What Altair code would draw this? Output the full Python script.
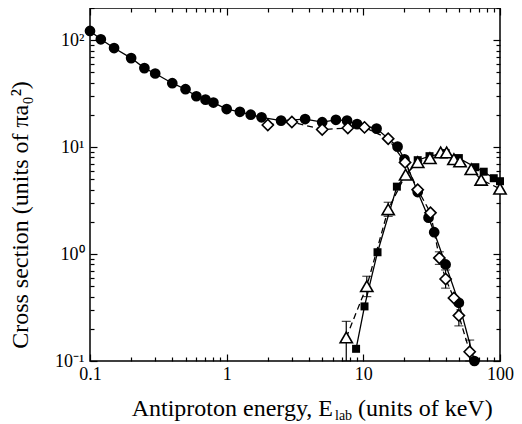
import altair as alt
import pandas as pd

# ---- data ----
circle_x = [0.1, 0.12, 0.15, 0.2, 0.25, 0.3, 0.4, 0.5, 0.6, 0.7, 0.8, 1.0, 1.25, 1.5, 1.8,
            2.5, 3.75, 5.0, 6.3, 7.6, 9.0, 12.5, 17.8, 20, 25, 30, 33, 40, 50, 65]
circle_y = [122, 102, 84.5, 68, 54.8, 48.8, 39.6, 34.8, 29.9, 27.8, 26.1, 22.7, 21.4, 20.1, 19.0,
            17.7, 18.3, 17.1, 18.0, 17.7, 16.4, 14.9, 10.1, 7.7, 3.8, 2.19, 1.60, 0.80, 0.35, 0.10]

diamond_x = [2.0, 3.0, 5.0, 7.7, 10.2, 15.2, 20.2, 25, 31, 36, 40, 46, 50, 60]
diamond_y = [16.1, 17.2, 14.6, 15.1, 15.3, 12.0, 7.2, 4.0, 2.43, 0.92, 0.585, 0.388, 0.266, 0.122]
diamond_err_x = [36, 40, 50, 60]
diamond_err_lo = [0.80, 0.48, 0.213, 0.10]
diamond_err_hi = [1.05, 0.71, 0.33, 0.157]

square_x = [8.85, 10.2, 12.7, 17.6, 25, 30.5, 40, 50, 66, 76, 90, 100]
square_y = [0.13, 0.324, 1.04, 4.27, 7.55, 8.23, 8.8, 7.9, 6.49, 5.89, 5.12, 4.8]

tri_x = [7.5, 10.6, 15.2, 20.4, 25, 30.7, 36.8, 40.7, 46, 51, 61.6, 72.8, 100]
tri_y = [0.166, 0.50, 2.62, 5.52, 7.23, 7.88, 8.91, 8.91, 7.71, 7.34, 6.21, 4.95, 4.08]
tri_err_x = [7.5, 10.6, 15.2]
tri_err_lo = [0.10, 0.40, 2.25]
tri_err_hi = [0.235, 0.62, 3.05]

x_major = [0.1, 1, 10, 100]
x_minor = [0.2, 0.3, 0.4, 0.5, 0.6, 0.7, 0.8, 0.9, 2, 3, 4, 5, 6, 7, 8, 9,
           20, 30, 40, 50, 60, 70, 80, 90]
y_major = [0.1, 1, 10, 100]
y_minor = [0.2, 0.3, 0.4, 0.5, 0.6, 0.7, 0.8, 0.9, 2, 3, 4, 5, 6, 7, 8, 9,
           20, 30, 40, 50, 60, 70, 80, 90, 200]

x_title_main = ["Antiproton energy, E"]
x_title_sub = ["lab"]
x_title_rest = ["(units of keV)"]
y_title = ["Cross section (units of \u03c0a\u2080\u00b2)"]

FONT = "Liberation Serif"
LABEL_SIZE = 18
X_TITLE_SIZE = 24
Y_TITLE_SIZE = 24

xs = alt.Scale(type="log", domain=[0.1, 100], nice=False)
ys = alt.Scale(type="log", domain=[0.1, 200], nice=False)


def ax(orient, values, size, labels=False, **kw):
    return alt.Axis(orient=orient, values=values, tickSize=size, offset=-size,
                    domain=False, grid=False, labels=labels, title=None,
                    labelFlush=False, labelOverlap=False,
                    tickColor="black", tickWidth=1.2, labelColor="black",
                    labelFont=FONT, labelFontSize=LABEL_SIZE, **kw)


ylab = ("datum.value >= 99 ? '10\u00b2' : datum.value >= 9 ? '10\u00b9' : "
        "datum.value >= 0.9 ? '10\u2070' : '10\u207b\u00b9'")

ax_bottom = ax("bottom", x_major, 7, labels=True, labelPadding=4, format="~g")
ax_bottom_minor = ax("bottom", x_minor, 4)
ax_top = ax("top", x_major, 7)
ax_top_minor = ax("top", x_minor, 4)
ax_left = ax("left", y_major, 7, labels=True, labelPadding=6, labelExpr=ylab)
ax_left_minor = ax("left", y_minor, 4)
ax_right = ax("right", y_major, 7)
ax_right_minor = ax("right", y_minor, 4)

circ = pd.DataFrame({"x": circle_x, "y": circle_y})
dia = pd.DataFrame({"x": diamond_x, "y": diamond_y})
sq = pd.DataFrame({"x": square_x, "y": square_y})
tri = pd.DataFrame({"x": tri_x, "y": tri_y})
tri_err = pd.DataFrame({"x": tri_err_x, "lo": tri_err_lo, "hi": tri_err_hi})
dia_err = pd.DataFrame({"x": diamond_err_x, "lo": diamond_err_lo, "hi": diamond_err_hi})


def X(axis):
    return alt.X("x:Q", scale=xs, axis=axis)


def Y(axis, field="y"):
    return alt.Y(f"{field}:Q", scale=ys, axis=axis)


line_circ = alt.Chart(circ).mark_line(color="black", strokeWidth=1.3).encode(
    x=X(ax_bottom), y=Y(ax_left))
line_sq = alt.Chart(sq).mark_line(color="black", strokeWidth=1.3).encode(
    x=X(ax_bottom_minor), y=Y(ax_left_minor))
line_dia = alt.Chart(dia).mark_line(color="black", strokeWidth=1.3, strokeDash=[6, 4]).encode(
    x=X(ax_top), y=Y(ax_right))
line_tri = alt.Chart(tri).mark_line(color="black", strokeWidth=1.3, strokeDash=[6, 4]).encode(
    x=X(ax_top_minor), y=Y(ax_right_minor))


def errbars(df):
    rule = alt.Chart(df).mark_rule(color="black", strokeWidth=1.2).encode(
        x=X(None), y=Y(None, "lo"), y2="hi:Q")
    cap_lo = alt.Chart(df).mark_tick(color="black", orient="horizontal", size=9,
                                     thickness=1.2).encode(x=X(None), y=Y(None, "lo"))
    cap_hi = alt.Chart(df).mark_tick(color="black", orient="horizontal", size=9,
                                     thickness=1.2).encode(x=X(None), y=Y(None, "hi"))
    return [rule, cap_lo, cap_hi]


pts_circ = alt.Chart(circ).mark_point(shape="circle", filled=True, color="black",
                                      size=115, opacity=1).encode(x=X(None), y=Y(None))
pts_sq = alt.Chart(sq).mark_point(shape="square", filled=True, color="black",
                                  size=64, opacity=1).encode(x=X(None), y=Y(None))
pts_dia = alt.Chart(dia).mark_point(shape="diamond", filled=True, fill="white",
                                    stroke="black", strokeWidth=1.6, size=125,
                                    opacity=1).encode(x=X(None), y=Y(None))
pts_tri = alt.Chart(tri).mark_point(shape="triangle-up", filled=True, fill="white",
                                    stroke="black", strokeWidth=1.6, size=150,
                                    opacity=1).encode(x=X(None), y=Y(None))

t_main = alt.Chart(pd.DataFrame({"t": x_title_main})).mark_text(
    align="right", baseline="middle", font=FONT, fontSize=X_TITLE_SIZE, color="black").encode(
    x=alt.value(243), y=alt.value(401), text="t:N")
t_sub = alt.Chart(pd.DataFrame({"t": x_title_sub})).mark_text(
    align="left", baseline="middle", font=FONT, fontSize=14, color="black").encode(
    x=alt.value(245), y=alt.value(408), text="t:N")
t_rest = alt.Chart(pd.DataFrame({"t": x_title_rest})).mark_text(
    align="left", baseline="middle", font=FONT, fontSize=X_TITLE_SIZE, color="black").encode(
    x=alt.value(268), y=alt.value(401), text="t:N")
t_y = alt.Chart(pd.DataFrame({"t": y_title})).mark_text(
    align="center", baseline="middle", font=FONT, fontSize=Y_TITLE_SIZE, angle=270,
    color="black").encode(x=alt.value(-69), y=alt.value(207), text="t:N")

layers = [line_circ, line_sq, line_dia, line_tri]
layers += errbars(tri_err) + errbars(dia_err)
layers += [pts_circ, pts_sq, pts_dia, pts_tri, t_main, t_sub, t_rest, t_y]

chart = alt.layer(*layers).resolve_axis(x="independent", y="independent").properties(
    width=410, height=353,
    autosize=alt.AutoSizeParams(type="none"),
    padding={"left": 82, "top": 0, "right": 14, "bottom": 63},
).configure_view(stroke="black", strokeWidth=1.5)

chart.save("out.html", embed_options={"renderer": "svg", "actions": False})
